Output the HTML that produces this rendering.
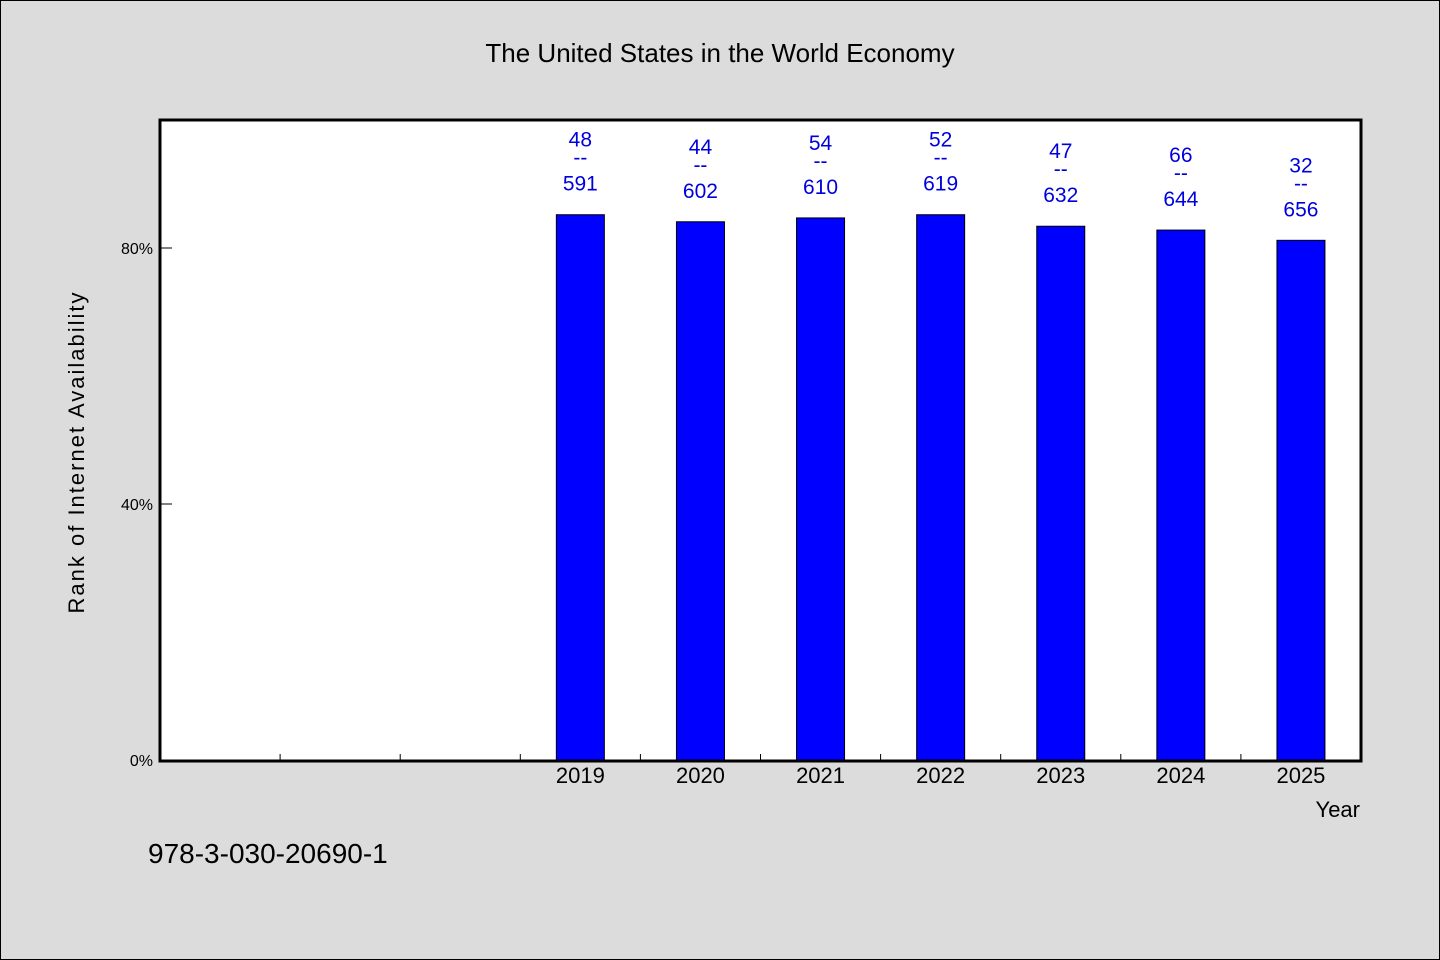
<!DOCTYPE html>
<html><head><meta charset="utf-8"><style>
body{margin:0;background:#dcdcdc;}
svg{display:block;font-family:"WenQuanYi Zen Hei","Liberation Sans",sans-serif;}
</style></head><body>
<svg id="chart" width="1440" height="960" xmlns="http://www.w3.org/2000/svg">
<rect x="0.5" y="0.5" width="1439" height="959" fill="#dcdcdc" stroke="#000"/>
<text x="720" y="62" font-size="26" text-anchor="middle">The United States in the World Economy</text>
<rect x="160" y="120" width="1201" height="641" fill="#fff"/>
<g id="bars"></g>
<rect x="160" y="120" width="1201" height="641" fill="none" stroke="#000" stroke-width="3"/>
<text transform="translate(84,452) rotate(-90)" font-size="22" text-anchor="middle" letter-spacing="2">Rank of Internet Availability</text>
<text x="1360" y="817" font-size="22" text-anchor="end">Year</text>
<text x="148" y="863" font-size="28">978-3-030-20690-1</text>
</svg>
<script>
const categories=["","","","2019","2020","2021","2022","2023","2024","2025"];
const values=[null,null,null,85.2,84.1,84.7,85.2,83.4,82.8,81.2];
const topLabels=["","","","48","44","54","52","47","66","32"];
const bottomLabels=["","","","591","602","610","619","632","644","656"];
const yTicks=[0,40,80];
const yTickLabels=["0%","40%","80%"];
const NS="http://www.w3.org/2000/svg";
const svg=document.getElementById('chart');
const g=document.getElementById('bars');
const x0=160,x1=1361,y0=760,y1=120;
const slot=(x1-x0)/categories.length;
const xc=i=>x0+slot*(i+0.5);
const y=v=>y0-v*6.4;
function mk(t,a,p){const e=document.createElementNS(NS,t);for(const k in a)e.setAttribute(k,a[k]);(p||svg).appendChild(e);return e;}
categories.forEach((c,i)=>{
  if(i>0){const t=mk('line',{x1:x0+slot*i,x2:x0+slot*i,y1:y0,y2:y0-6,stroke:'#000'});
  
  }
  if(values[i]==null)return;
  const r=mk('rect',{x:xc(i)-24,y:y(values[i]),width:48,height:y0-y(values[i]),fill:'#0000ff',stroke:'#000'},g);
  
  
  const top=y(values[i]);
  const lines=[[topLabels[i],top-68],["--",top-50],[bottomLabels[i],top-24]];
  lines.forEach(([s,yy],k)=>{const t=mk('text',{x:xc(i),y:yy,'font-size':21,fill:'#0000dd','text-anchor':'middle'},g);t.textContent=s;
    
    });
  const xl=mk('text',{x:xc(i),y:783,'font-size':22,'text-anchor':'middle'});
  xl.textContent=c;
  
  
});
yTicks.forEach((v,k)=>{
  const t=mk('line',{x1:x0,x2:x0+12,y1:y(v),y2:y(v),stroke:'#000'});
  
  
  const l=mk('text',{x:153,y:y(v)+6,'font-size':16,'text-anchor':'end'});
  l.textContent=yTickLabels[k];
  
  
});
</script>
</body></html>
